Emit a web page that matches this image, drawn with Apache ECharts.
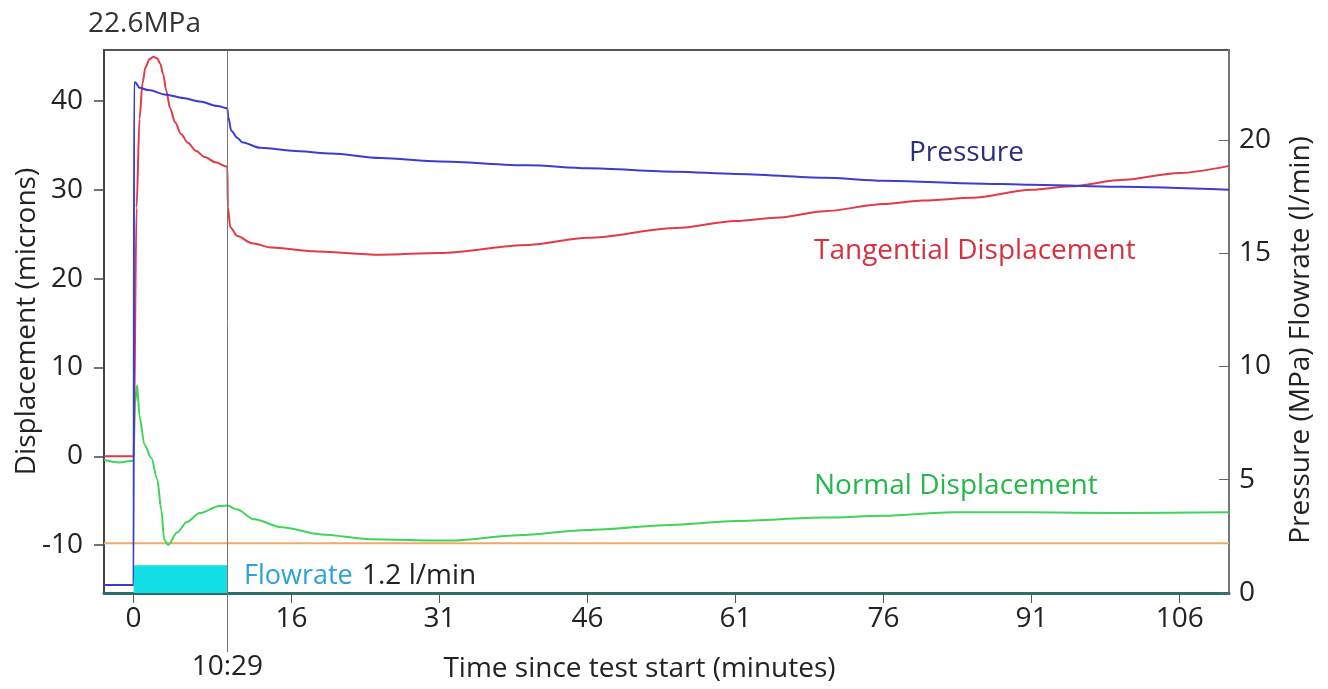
<!DOCTYPE html>
<html>
<head>
<meta charset="utf-8">
<title>Displacement and pressure</title>
<script src="https://cdn.jsdelivr.net/npm/echarts@6/dist/echarts.min.js"></script>
<style>
  html, body { margin: 0; padding: 0; background: #fff; }
  #chart { width: 1328px; height: 689px; }
</style>
</head>
<body>
<div id="chart"></div>
<script>
// time in minutes since test start
const timeTicks = [0, 16, 31, 46, 61, 76, 91, 106];
const displacementTicks = [-10, 0, 10, 20, 30, 40];
const pressureTicks = [0, 5, 10, 15, 20];
const shutInTime = 9.5;   // drawn position of the 10:29 marker
const shutInLabel = "10:29";
const timeMin = -3;
const timeMax = 111;

// [time, MPa] on the right axis
const pressure = [
  [-3, 0.35], [0, 0.35], [0.05, 22.5], [0.15, 22.55], [0.6, 22.3], [1.5, 22.2],
  [3.3, 22.0], [5, 21.85], [6.7, 21.7], [8.5, 21.5], [9.5, 21.4], [9.6, 21.0],
  [9.9, 20.4], [10.5, 20.1], [11, 19.9], [12.8, 19.65], [16.8, 19.5], [20, 19.4],
  [25, 19.2], [31, 19.05], [40, 18.88], [46, 18.75], [55, 18.6], [61, 18.5],
  [70, 18.33], [76, 18.2], [85, 18.08], [91, 18.02], [100, 17.93], [111, 17.8]
];

// [time, microns] on the left axis
const tangential = [
  [-3, 0], [0, 0], [0.3, 28], [0.6, 38], [0.9, 42], [1.2, 43.8], [1.6, 44.7],
  [2, 45], [2.4, 44.8], [2.7, 44.2], [3, 43], [3.3, 41.2], [3.7, 39.2],
  [4.2, 37.6], [4.8, 36.3], [5.5, 35.3], [6.3, 34.4], [7.2, 33.7], [8.3, 33.1],
  [9.5, 32.6], [9.55, 28], [9.8, 25.8], [10.5, 24.8], [12, 24], [14, 23.5],
  [18, 23.1], [25, 22.7], [31, 22.9], [40, 23.8], [46, 24.6], [55, 25.7],
  [61, 26.5], [65.5, 26.9], [70, 27.6], [76, 28.4], [80, 28.8], [85, 29.1],
  [91, 30], [95, 30.4], [100, 31.1], [106, 31.9], [111, 32.7]
];

const normal = [
  [-3, -0.4], [-1.5, -0.7], [0, -0.5], [0.15, 6], [0.35, 8], [0.6, 4.5],
  [1.1, 1.3], [1.8, -0.2], [2.4, -2.6], [2.8, -6], [3.1, -9.4], [3.5, -10],
  [4.4, -8.6], [5.4, -7.4], [6.7, -6.4], [8.7, -5.6], [9.5, -5.55], [10.5, -6],
  [12.2, -7.1], [15, -8], [19, -8.8], [24, -9.35], [32, -9.5], [39, -8.9],
  [46, -8.3], [55, -7.7], [61, -7.3], [70, -6.9], [76, -6.7], [83, -6.3],
  [91, -6.3], [100, -6.4], [111, -6.3]
];

const baseline = [[-3, -9.8], [111, -9.8]];

// [time, l/min] on the right axis
const flowrate = [[0, 1.2], [9.5, 1.2]];

const font = "Open Sans";
const labelFont = "28px 'Open Sans'";
const chart = echarts.init(document.getElementById("chart"));

// short outward strokes for the displacement scale, one per tick value
const tickStrokes = [];
displacementTicks.forEach(v => {
  tickStrokes.push([timeMin - 1, v], [timeMin, v], "-");
});

const option = {
  animation: false,
  textStyle: { fontFamily: font },
  title: {
    text: "22.6MPa",
    left: 83,
    top: 5,
    textStyle: { fontFamily: font, fontSize: 28, fontWeight: "normal", color: "#333" }
  },
  grid: {
    left: 104, right: 99, top: 50, bottom: 96,
    containLabel: false, outerBoundsMode: "none",
    show: true, borderColor: "#555", borderWidth: 2
  },
  xAxis: [
    {
      type: "value", min: timeMin, max: timeMax,
      name: "Time since test start (minutes)",
      nameLocation: "middle", nameGap: 62, nameMoveOverlap: false,
      nameTextStyle: { fontSize: 28, color: "#222", padding: [0, 54, 0, 0] },
      axisLine: { show: true, onZero: false, lineStyle: { color: "#2d6d6a", width: 3 } },
      axisTick: { show: true, length: 10, customValues: timeTicks, lineStyle: { color: "#555" } },
      axisLabel: { customValues: timeTicks, fontSize: 28, color: "#222", margin: 12 },
      splitLine: { show: false }
    },
    {
      type: "value", min: timeMin, max: timeMax, position: "bottom",
      axisLine: { show: true, onZero: false, lineStyle: { opacity: 0 } },
      axisTick: { show: true, length: 59, customValues: [shutInTime], lineStyle: { color: "#777", width: 1 } },
      axisLabel: { customValues: [shutInTime], formatter: () => shutInLabel, fontSize: 28, color: "#222", margin: 60 },
      splitLine: { show: false }
    }
  ],
  yAxis: [
    {
      type: "value", min: -15.4, max: 45.75, position: "left",
      name: "Displacement (microns)",
      nameLocation: "middle", nameGap: 63, nameMoveOverlap: false,
      nameTextStyle: { fontSize: 28, color: "#222" },
      axisLine: { show: true, onZero: false, lineStyle: { color: "#444", width: 2 } },
      axisTick: { show: true, length: 10, customValues: displacementTicks, lineStyle: { color: "#444", width: 1.5 } },
      axisLabel: { customValues: displacementTicks, fontSize: 28, color: "#222", margin: 21 },
      splitLine: { show: false }
    },
    {
      type: "value", min: 0, max: 23.97, position: "right",
      name: "Pressure (MPa) Flowrate (l/min)",
      nameLocation: "middle", nameGap: 58, nameMoveOverlap: false,
      nameTextStyle: { fontSize: 28, color: "#222", padding: [0, 37, 0, 0] },
      axisLine: { show: true, onZero: false, lineStyle: { color: "#777", width: 2 } },
      axisTick: { show: true, inside: true, length: 10, customValues: pressureTicks, lineStyle: { color: "#666" } },
      axisLabel: { customValues: pressureTicks, fontSize: 28, color: "#222", margin: 10 },
      splitLine: { show: false }
    }
  ],
  series: [
    {
      name: "Displacement ticks", type: "line", yAxisIndex: 0, data: tickStrokes,
      clip: false, silent: true, showSymbol: false, connectNulls: false,
      lineStyle: { color: "#444", width: 1.5 }
    },
    {
      name: "Flowrate", type: "line", yAxisIndex: 1, data: flowrate,
      showSymbol: false, lineStyle: { color: "#12e0e6", width: 1 },
      areaStyle: { color: "#12e0e6", opacity: 1 },
      markLine: {
        silent: true, symbol: "none", label: { show: false },
        lineStyle: { color: "#777", width: 1, type: "solid" },
        data: [{ xAxis: shutInTime }]
      }
    },
    {
      name: "Baseline", type: "line", yAxisIndex: 0, data: baseline,
      showSymbol: false, lineStyle: { color: "#f2a868", width: 2 }
    },
    {
      name: "Normal Displacement", type: "line", yAxisIndex: 0, data: normal,
      showSymbol: false, smooth: 0.3, smoothMonotone: "x",
      lineStyle: { color: "#3fd45a", width: 2 }
    },
    {
      name: "Tangential Displacement", type: "line", yAxisIndex: 0, data: tangential,
      showSymbol: false, smooth: 0.3, smoothMonotone: "x",
      lineStyle: { color: "#e23a48", width: 2 }
    },
    {
      name: "Pressure", type: "line", yAxisIndex: 1, data: pressure,
      showSymbol: false, smooth: 0.3, smoothMonotone: "x",
      lineStyle: { color: "#3c3cd2", width: 2 }
    }
  ],
  graphic: [
    { type: "text", x: 909, y: 153, style: { text: "Pressure", fill: "#2c2f7e", font: labelFont, verticalAlign: "middle" } },
    { type: "text", x: 814, y: 251, style: { text: "Tangential Displacement", fill: "#d8303e", font: labelFont, verticalAlign: "middle" } },
    { type: "text", x: 814, y: 486, style: { text: "Normal Displacement", fill: "#22b84a", font: labelFont, verticalAlign: "middle" } },
    { type: "text", x: 244, y: 576, style: { text: "Flowrate", fill: "#2aa2da", font: "27px 'Open Sans'", verticalAlign: "middle" } },
    { type: "text", x: 362, y: 576, style: { text: "1.2 l/min", fill: "#222", font: labelFont, verticalAlign: "middle" } }
  ]
};

chart.setOption(option);
</script>
</body>
</html>
